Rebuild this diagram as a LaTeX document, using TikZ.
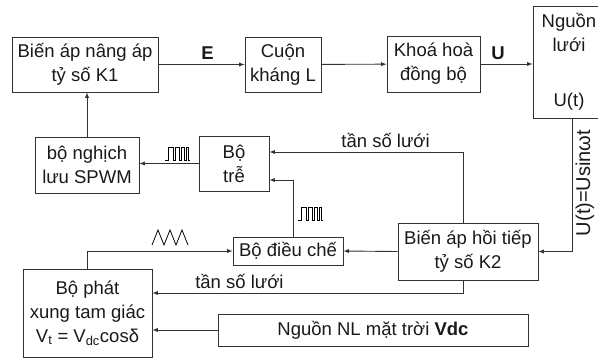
\documentclass[tikz,border=0pt]{standalone}
\usepackage{fontspec}
\setmainfont{Liberation Sans}
\tikzset{
  pwm/.pic={\draw[line width=0.8pt] (0,13) -- (3,13) -- (3,0) -- (8,0) -- (8,13) -- (10,13) -- (10,0) -- (14,0) -- (14,13) -- (16,13) -- (16,0) -- (19,0) -- (19,13) -- (21,13) -- (21,0) -- (23,0) -- (23,13) -- (25,13);},
  tri/.pic={\draw[line width=0.8pt] (0,15) -- (6,0) -- (12,15) -- (18,0) -- (24,15) -- (30,0) -- (36,15);}
}
\begin{document}
\begin{tikzpicture}[x=1pt,y=-1pt,
  every node/.style={font=\fontsize{18.5}{24}\selectfont, text=black!90},
  box/.style={draw=black!80, line width=0.9pt, align=center, inner sep=0pt},
  wire/.style={draw=black!80, line width=0.9pt, -latex}]
\clip (0,0) rectangle (598,360);

\node[box, minimum width=146pt, minimum height=55pt] (k1) at (85,64.5) {Biến áp nâng áp\\tỷ số K1};
\node[box, minimum width=76pt, minimum height=55pt] (cuon) at (283,64.5) {Cuộn\\kháng L};
\node[box, minimum width=93pt, minimum height=56pt] (khoa) at (433.5,64) {Khoá hoà\\đồng bộ};
\node[box, minimum width=72pt, minimum height=112pt] (nguon) at (569,62) {Nguồn\\lưới\\[31pt]U(t)};
\node[box, minimum width=104pt, minimum height=56pt] (spwm) at (87,165) {bộ nghịch\\lưu SPWM};
\node[box, minimum width=70pt, minimum height=55pt] (tre) at (234,163.5) {Bộ\\trễ};
\node[box, minimum width=110pt, minimum height=28pt] (dieuche) at (288,251) {Bộ điều chế};
\node[box, minimum width=140pt, minimum height=57pt] (hoitiep) at (468,251.5) {Biến áp hồi tiếp\\tỷ số K2};
\node[box, minimum width=129pt, minimum height=88pt] (phat) at (87.5,313) {Bộ phát\\xung tam giác\\V\textsubscript{t} = V\textsubscript{dc}cosδ};
\node[box, minimum width=310pt, minimum height=32pt] (nl) at (373,330) {Nguồn NL mặt trời \textbf{Vdc}};

\draw[wire] (k1) -- node[pos=0.57, above=1pt] {\textbf{E}} (cuon);
\draw[wire] (cuon) -- (khoa);
\draw[wire] (khoa.east) -- node[pos=0.34, above=1pt] {\textbf{U}} (khoa.east -| nguon.west);
\draw[wire] (spwm.north) -- (spwm.north |- k1.south);
\draw[wire] (tre.west) -- (spwm.east |- tre.west);
\draw[wire] ([xshift=-5pt]hoitiep.north) |- node[pos=0.7, above=1pt] {tần số lưới} ([yshift=11.5pt]tre.east);
\draw[wire] ([xshift=5pt]dieuche.north) |- ([yshift=-16.5pt]tre.east);
\draw[wire] (phat.north) |- (dieuche.west);
\draw[wire] (hoitiep.west) -- (dieuche.east);
\draw[wire] ([xshift=3pt]nguon.south) |- (hoitiep.east);
\draw[wire] ([xshift=-5pt]hoitiep.south) |- node[pos=0.86, above=1pt] {tần số lưới} ([yshift=20pt]phat.east);
\draw[wire] (nl.west) -- (nl.west -| phat.east);

\node[rotate=90, font=\fontsize{20}{22}\selectfont] (ut) at (585,183) {U(t)=Usinωt};
\pic at (165,147) {pwm};
\pic at (298,207) {pwm};
\pic at (152,230) {tri};
\end{tikzpicture}
\end{document}
